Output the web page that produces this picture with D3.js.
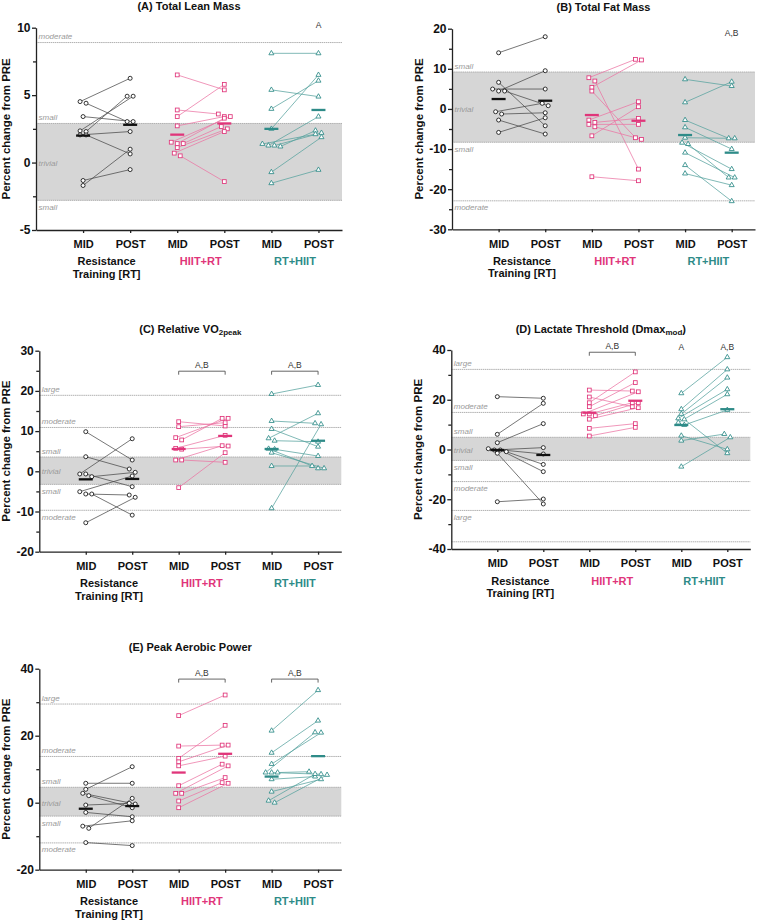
<!DOCTYPE html>
<html>
<head>
<meta charset="utf-8">
<script src="https://cdn.jsdelivr.net/npm/d3@7"></script>
<style>
  body { margin: 0; background: #fff; }
  svg text { font-family: 'Liberation Sans', Arial, sans-serif; }
</style>
</head>
<body>
<div id="chart"></div>
<script>
'use strict'

// Categories on the x axis and the three training groups
const timepoints = ['MID', 'POST', 'MID', 'POST', 'MID', 'POST']
const groupNames = [['Resistance', 'Training [RT]'], ['HIIT+RT'], ['RT+HIIT']]

// (A) Total Lean Mass -- [MID, POST] per participant
const leanRT = [[4.52, 6.25], [4.4, 3.04], [3.41, 3.04], [2.3, 4.92], [2.35, 4.92], [2.05, 2.3], [2.05, 0.64], [-1.33, -0.52], [-1.7, 0.99]]
const leanHIITRT = [[6.5, 5.39], [3.9, 3.6], [3.41, 5.8], [2.72, 3.41], [1.51, 3.41], [1.41, 3.29], [1.41, 2.67], [1.11, 2.5], [0.7, 2.3], [0.5, -1.41]]
const leanRTHIIT = [[8.1, 8.1], [5.39, 4.89], [3.98, 6.07], [2.5, 6.5], [1.26, 3.41], [1.19, 2.37], [1.26, 2.2], [1.38, 2.1], [-0.71, 1.88], [-1.53, -0.54]]
const leanMeans = [[2.0, 2.8], [2.07, 2.9], [2.5, 3.9]]
const leanTicks = [-5, 0, 5, 10]
const leanMinor = [-2.5, 2.5, 7.5]
const leanCutoffs = [[8.9, 'moderate'], [2.9, 'small'], [-2.8, 'small']]
const leanBand = [-2.8, 2.9]
const leanNotes = [['A', 5, 5, 10.2]]

// (B) Total Fat Mass
const fatRT = [[14.0, 18.0], [6.63, -4.2], [4.96, 4.96], [4.46, 9.53], [4.46, 0.8], [-0.7, 1.4], [-1.27, -0.95], [-2.77, -6.26], [-5.85, -2.2]]
const fatHIITRT = [[7.78, 12.37], [6.96, -15.0], [5.39, 12.2], [4.46, -7.18], [-2.77, 1.8], [-3.35, -2.35], [-3.85, -3.85], [-4.45, -7.58], [-6.7, 0.55], [-16.9, -17.9]]
const fatRTHIIT = [[7.38, 5.71], [1.64, 6.78], [-2.77, -7.33], [-4.59, -10.0], [-7.18, -7.33], [-8.43, -15.0], [-8.75, -17.1], [-10.9, -17.1], [-14.0, -23.0], [-16.1, -19.0]]
const fatMeans = [[2.47, 2.05], [-1.52, -2.94], [-6.5, -10.9]]
const fatTicks = [-30, -20, -10, 0, 10, 20]
const fatMinor = [-25, -15, -5, 5, 15]
const fatCutoffs = [[9.2, 'small'], [-8.3, 'small'], [-22.9, 'moderate']]
const fatBand = [-8.3, 9.2]
const fatNotes = [['A,B', 5, 5, 18.9]]

// (C) Relative VO2peak
const vo2RT = [[9.85, 2.81], [3.63, 0.57], [-0.67, 8.1], [-0.67, -3.83], [-1.34, -0.25], [-5.07, -1.17], [-5.65, -5.9], [-5.65, -10.9], [-12.8, -6.47]]
const vo2HIITRT = [[12.34, 11.27], [11.1, 12.1], [7.8, 13.18], [8.37, 13.18], [5.72, 8.95], [5.5, 6.29], [2.81, 6.37], [2.81, 2.24], [-4.07, 4.63]]
const vo2RTHIIT = [[19.23, 21.47], [12.51, 11.94], [10.52, 6.12], [7.61, 7.36], [8.2, 14.43], [5.6, 0.74], [5.47, 3.8], [4.63, 0.74], [1.32, 1.32], [-9.2, 11.69]]
const vo2Means = [[-2.0, -1.9], [5.55, 8.8], [5.55, 7.6]]
const vo2Ticks = [-20, -10, 0, 10, 20, 30]
const vo2Minor = [-15, -5, 5, 15, 25]
const vo2Cutoffs = [[18.9, 'large'], [10.9, 'moderate'], [3.55, 'small'], [-3.25, 'small'], [-9.7, 'moderate']]
const vo2Band = [-3.25, 3.55]
const vo2Notes = [['A,B', 2, 3, 24.9], ['A,B', 4, 5, 24.9]]

// (D) Lactate Threshold (Dmax mod)
const ltRT = [[21.24, 20.6], [6.1, 18.56], [2.73, 10.4], [-0.2, 0.76], [0.32, -1.8], [-0.88, -6.0], [-0.2, -8.9], [-1.5, -21.9], [-21.0, -19.9]]
const ltHIITRT = [[23.9, 23.5], [21.1, 17.2], [18.8, 31.2], [17.2, 26.9], [14.3, 23.2], [14.3, 18.8], [13.6, 18.8], [12.2, 16.8], [8.5, 10.4], [5.43, 8.9]]
const ltRTHIIT = [[22.6, 37.1], [16.2, 32.2], [14.3, 28.9], [12.5, 24.2], [10.8, 22.2], [12.1, -1.5], [9.85, 15.9], [5.55, 0.07], [3.55, 6.2], [-6.9, 4.9]]
const ltMeans = [[-0.2, -2.2], [14.8, 19.6], [9.85, 16.2]]
const ltTicks = [-40, -20, 0, 20, 40]
const ltMinor = [-30, -10, 10, 30]
const ltCutoffs = [[32.2, 'large'], [14.9, 'moderate'], [4.9, 'small'], [-4.4, 'small'], [-12.9, 'moderate'], [-24.5, 'large'], [-37.1, '']]
const ltBand = [-4.4, 4.9]
const ltNotes = [['A,B', 2, 3, 39.1], ['A', 4, 4, 41.4], ['A,B', 5, 5, 41.4]]

// (E) Peak Aerobic Power
const papRT = [[5.8, 5.8], [4.0, 10.75], [2.8, -0.4], [2.1, -1.5], [-0.7, -0.2], [-2.9, -4.2], [-7.0, -5.4], [-7.65, 1.3], [-11.9, -12.8]]
const papHIITRT = [[26, 32.15], [16.9, 17.2], [13.25, 23.1], [12.2, 17.2], [11.0, 13.9], [5.07, 11.5], [2.8, 11.0], [2.8, 7.5], [0.5, 6.0], [-1.5, 5.8]]
const papRTHIIT = [[21.5, 33.6], [14.9, 24.5], [11.55, 20.9], [9.0, 21.0], [9.0, 8.5], [9.0, 9.25], [7.0, 7.8], [3.3, 7.0], [0.0, 8.3], [0.6, 8.55]]
const papMeans = [[-1.8, -1.0], [9.0, 14.6], [7.8, 13.9]]
const papTicks = [-20, 0, 20, 40]
const papMinor = [-10, 10, 30]
const papCutoffs = [[29.45, 'large'], [13.8, 'moderate'], [4.6, 'small'], [-4.0, 'small'], [-12.0, 'moderate']]
const papBand = [-4.0, 4.6]
const papNotes = [['A,B', 2, 3, 36.9], ['A,B', 4, 5, 36.9]]

const colors = ['#111111', '#e0357a', '#2e8b88']
const lineColors = ['#4a4a4a', '#eb74a3', '#55a29e']

const panels = [
  { title: [['(A) Total Lean Mass', false]], left: 36, top: 27.7, width: 306, height: 202.3, domain: [-5, 10], titleGap: 29.5,
    ticks: leanTicks, minor: leanMinor, groups: [leanRT, leanHIITRT, leanRTHIIT], means: leanMeans, cutoffs: leanCutoffs, band: leanBand, notes: leanNotes },
  { title: [['(B) Total Fat Mass', false]], left: 452, top: 28.7, width: 303, height: 200.6, domain: [-30, 20], titleGap: 32,
    ticks: fatTicks, minor: fatMinor, groups: [fatRT, fatHIITRT, fatRTHIIT], means: fatMeans, cutoffs: fatCutoffs, band: fatBand, notes: fatNotes },
  { title: [['(C) Relative VO', false], ['2peak', true]], left: 39.3, top: 350.7, width: 302, height: 201, domain: [-20, 30], titleGap: 32,
    ticks: vo2Ticks, minor: vo2Minor, groups: [vo2RT, vo2HIITRT, vo2RTHIIT], means: vo2Means, cutoffs: vo2Cutoffs, band: vo2Band, notes: vo2Notes },
  { title: [['(D) Lactate Threshold (Dmax', false], ['mod', true], [')', false]], left: 451.3, top: 350, width: 299, height: 199, domain: [-40, 40], titleGap: 32,
    ticks: ltTicks, minor: ltMinor, groups: [ltRT, ltHIITRT, ltRTHIIT], means: ltMeans, cutoffs: ltCutoffs, band: ltBand, notes: ltNotes },
  { title: [['(E) Peak Aerobic Power', false]], left: 39.3, top: 668.7, width: 302, height: 201, domain: [-20, 40], titleGap: 32,
    ticks: papTicks, minor: papMinor, groups: [papRT, papHIITRT, papRTHIIT], means: papMeans, cutoffs: papCutoffs, band: papBand, notes: papNotes }
]

const svg = d3.select('#chart')
  .append('svg')
  .attr('width', 757)
  .attr('height', 920)

// Spread points that share (almost) the same value, Prism style
const spread = (values, scaleY, cx) => {
  const order = values.map((v, i) => i).sort((a, b) => values[b] - values[a])
  const xs = new Array(values.length)
  let row = []
  const flush = () => {
    row.forEach((idx, k) => { xs[idx] = cx + (k - (row.length - 1) / 2) * 6 })
    row = []
  }
  order.forEach(idx => {
    if (row.length && Math.abs(scaleY(values[idx]) - scaleY(values[row[0]])) >= 3.3) flush()
    row.push(idx)
  })
  flush()
  return xs
}

const drawMarker = (sel, gi) => {
  if (gi === 0) {
    sel.append('circle').attr('r', 2)
  } else if (gi === 1) {
    sel.append('rect').attr('x', -1.9).attr('y', -1.9).attr('width', 3.8).attr('height', 3.8)
  } else {
    sel.append('path').attr('d', d3.symbol(d3.symbolTriangle, 11)())
  }
}

const drawPanel = p => {
  const g = svg.append('g').attr('transform', `translate(${p.left},${p.top})`)

  const scaleX = d3.scaleLinear().domain([-1, 5.5]).range([0, p.width])
  const scaleY = d3.scaleLinear().domain(p.domain).range([p.height, 0])

  // title
  const title = svg.append('text')
    .attr('x', p.left + p.width / 2)
    .attr('y', p.top - 17.5)
    .attr('text-anchor', 'middle')
    .attr('font-size', 11)
    .attr('font-weight', 'bold')
    .attr('fill', '#111')
  p.title.forEach(([t, sub]) => {
    const ts = title.append('tspan').text(t)
    if (sub) ts.attr('font-size', 8).attr('baseline-shift', '-25%')
  })

  // trivial band
  g.append('rect')
    .attr('x', 0)
    .attr('width', p.width)
    .attr('y', scaleY(p.band[1]))
    .attr('height', scaleY(p.band[0]) - scaleY(p.band[1]))
    .attr('fill', '#d6d6d6')

  // effect size cut-offs
  g.selectAll('.cut')
    .data(p.cutoffs)
    .join('line')
    .attr('x1', 0)
    .attr('x2', p.width)
    .attr('y1', d => scaleY(d[0]))
    .attr('y2', d => scaleY(d[0]))
    .attr('stroke', '#a8a8a8')
    .attr('stroke-width', 0.9)
    .attr('stroke-dasharray', '1.5,0.6')

  g.selectAll('.cutlabel')
    .data(p.cutoffs.filter(d => d[1]))
    .join('text')
    .attr('x', 2.5)
    .attr('y', d => d[0] > 0 ? scaleY(d[0]) - 3.5 : scaleY(d[0]) + 9.5)
    .attr('font-size', 8)
    .attr('font-style', 'italic')
    .attr('fill', '#9a9a9a')
    .text(d => d[1])

  g.append('text')
    .attr('x', 2.5)
    .attr('y', scaleY(0) + 3)
    .attr('font-size', 8)
    .attr('font-style', 'italic')
    .attr('fill', '#9a9a9a')
    .text('trivial')

  // individual participants
  p.groups.forEach((pairs, gi) => {
    const mids = pairs.map(d => d[0])
    const posts = pairs.map(d => d[1])
    const xm = spread(mids, scaleY, scaleX(gi * 2))
    const xp = spread(posts, scaleY, scaleX(gi * 2 + 1))

    g.append('g')
      .selectAll('line')
      .data(pairs)
      .join('line')
      .attr('x1', (d, i) => xm[i])
      .attr('x2', (d, i) => xp[i])
      .attr('y1', d => scaleY(d[0]))
      .attr('y2', d => scaleY(d[1]))
      .attr('stroke', lineColors[gi])
      .attr('stroke-width', 0.75)

    const pts = mids.map((v, i) => [xm[i], v]).concat(posts.map((v, i) => [xp[i], v]))
    const marks = g.append('g')
      .attr('fill', '#fff')
      .attr('stroke', colors[gi])
      .attr('stroke-width', 0.85)
      .selectAll('g')
      .data(pts)
      .join('g')
      .attr('transform', d => `translate(${d[0]},${scaleY(d[1])})`)
    drawMarker(marks, gi)

    // mean bars
    g.append('g')
      .selectAll('line')
      .data(p.means[gi])
      .join('line')
      .attr('x1', (d, i) => scaleX(gi * 2 + i) - 7)
      .attr('x2', (d, i) => scaleX(gi * 2 + i) + 7)
      .attr('y1', d => scaleY(d))
      .attr('y2', d => scaleY(d))
      .attr('stroke', colors[gi])
      .attr('stroke-width', 2.3)

    // group label
    g.append('text')
      .attr('text-anchor', 'middle')
      .attr('font-size', 11)
      .attr('font-weight', 'bold')
      .attr('fill', colors[gi])
      .selectAll('tspan')
      .data(groupNames[gi])
      .join('tspan')
      .attr('x', (scaleX(gi * 2) + scaleX(gi * 2 + 1)) / 2)
      .attr('y', (d, i) => p.height + 35.5 + i * 12.5)
      .text(d => d)
  })

  // axes
  const axisY = g.append('g')
    .call(d3.axisLeft(scaleY).tickValues(p.ticks).tickSize(4).tickSizeOuter(0).tickPadding(1.5).tickFormat(d => String(d)))
  g.append('g')
    .call(d3.axisLeft(scaleY).tickValues(p.minor).tickSize(3).tickSizeOuter(0).tickFormat(''))
    .select('.domain').remove()
  axisY.selectAll('text').attr('font-size', 12).attr('font-weight', 'bold').attr('fill', '#111')

  const axisX = g.append('g')
    .attr('transform', `translate(0,${p.height})`)
    .call(d3.axisBottom(scaleX).tickValues(d3.range(6)).tickSize(3).tickSizeOuter(0).tickPadding(7.5).tickFormat(i => timepoints[i]))
  axisX.selectAll('text').attr('font-size', 11).attr('font-weight', 'bold').attr('fill', '#111')

  g.selectAll('.domain, .tick line').attr('stroke', '#222').attr('stroke-width', 1.3)

  // y axis title
  g.append('text')
    .attr('transform', `translate(${-p.titleGap},${p.height / 2}) rotate(-90)`)
    .attr('text-anchor', 'middle')
    .attr('dominant-baseline', 'middle')
    .attr('font-size', 11.5)
    .attr('font-weight', 'bold')
    .attr('fill', '#111')
    .text('Percent change from PRE')

  // significance notes
  p.notes.forEach(([label, i0, i1, v]) => {
    const y = scaleY(v)
    if (i0 !== i1) {
      g.append('path')
        .attr('d', `M${scaleX(i0)},${y + 3.5}V${y}H${scaleX(i1)}V${y + 3.5}`)
        .attr('fill', 'none')
        .attr('stroke', '#555')
        .attr('stroke-width', 0.9)
      g.append('text')
        .attr('x', (scaleX(i0) + scaleX(i1)) / 2)
        .attr('y', y - 3.5)
        .attr('text-anchor', 'middle')
        .attr('font-size', 8.5)
        .attr('fill', '#333')
        .text(label)
    } else {
      g.append('text')
        .attr('x', scaleX(i0))
        .attr('y', y + 3)
        .attr('text-anchor', 'middle')
        .attr('font-size', 8.5)
        .attr('fill', '#333')
        .text(label)
    }
  })
}

panels.forEach(drawPanel)
</script>
</body>
</html>
